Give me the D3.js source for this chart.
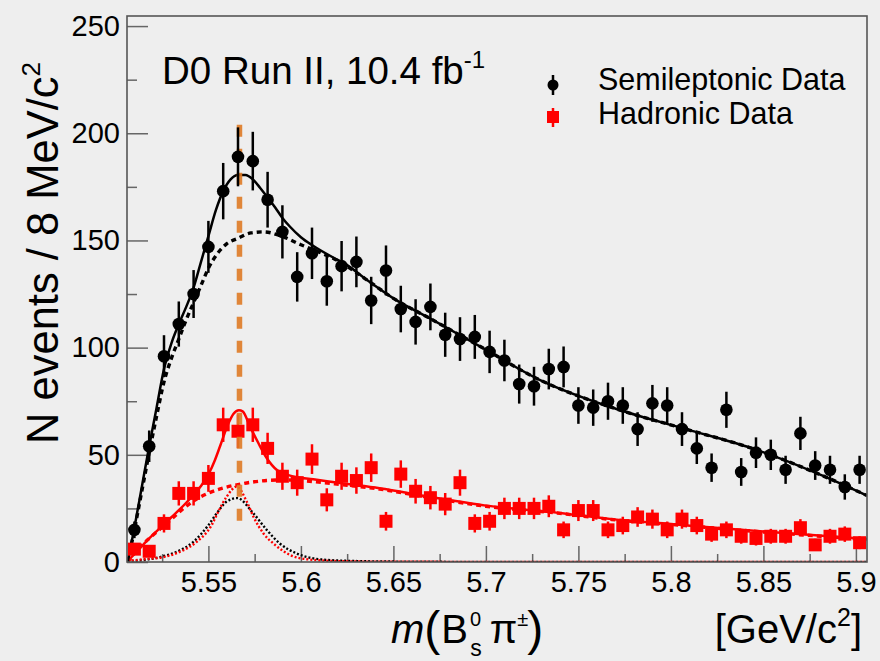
<!DOCTYPE html>
<html>
<head>
<meta charset="utf-8">
<script src="https://cdn.jsdelivr.net/npm/d3@7"></script>
<style>
  html, body { margin: 0; padding: 0; background: #eeeeee; }
  svg { display: block; font-family: "Liberation Sans", Arial, Helvetica, sans-serif; }
</style>
</head>
<body>
<svg id="chart" width="880" height="661"></svg>
<script>
// Histogram bin centres (8 MeV bins), GeV/c^2
const binCenters = [5.510, 5.518, 5.526, 5.534, 5.542, 5.550, 5.558, 5.566, 5.574, 5.582,
                    5.590, 5.598, 5.606, 5.614, 5.622, 5.630, 5.638, 5.646, 5.654, 5.662,
                    5.670, 5.678, 5.686, 5.694, 5.702, 5.710, 5.718, 5.726, 5.734, 5.742,
                    5.750, 5.758, 5.766, 5.774, 5.782, 5.790, 5.798, 5.806, 5.814, 5.822,
                    5.830, 5.838, 5.846, 5.854, 5.862, 5.870, 5.878, 5.886, 5.894, 5.902];

// Event counts per bin
const semileptonic = [15, 54, 96, 111, 125, 147, 173, 189, 187, 169,
                      154, 133, 144, 131, 138, 140, 122, 136, 118, 112,
                      119, 106, 104, 105, 98, 94, 83, 82, 90, 91,
                      73, 72, 75, 73, 62, 74, 73, 62, 53, 44,
                      71, 42, 51, 50, 43, 60, 45, 43, 35, 43];
const hadronic = [6, 5, 18, 32, 32, 39, 64, 61, 64, 53,
                  40, 37, 48, 29, 40, 38, 44, 19, 41, 33,
                  30, 27, 37, 18, 19, 25, 25, 25, 26, 15,
                  24, 24, 15, 17, 21, 20, 15, 20, 17, 13,
                  15, 12, 11, 12, 12, 16, 8, 12, 13, 9];

// Fit curves: semileptonic total (signal + background)
const semiTotalMass = [5.5064, 5.510, 5.514, 5.518, 5.522, 5.526, 5.530, 5.534, 5.538, 5.542,
                       5.546, 5.550, 5.554, 5.558, 5.562, 5.566, 5.570, 5.574, 5.578, 5.582,
                       5.586, 5.590, 5.594, 5.600, 5.607, 5.6175, 5.625, 5.635, 5.650, 5.670,
                       5.697, 5.729, 5.772, 5.808, 5.844, 5.880, 5.906];
const semiTotal = [0, 16, 35, 54, 72, 90, 102, 111, 119, 128,
                   140, 152, 164, 173, 178.5, 180.5, 180.5, 178.5, 174.5, 170,
                   165.5, 160.5, 156.5, 151.5, 147.3, 142, 138.5, 132, 123, 113.5,
                   100.5, 85, 71, 62, 53, 41, 31];

// Semileptonic background
const semiBkgMass = [5.5064, 5.510, 5.514, 5.518, 5.522, 5.526, 5.530, 5.534, 5.538, 5.542,
                     5.546, 5.550, 5.555, 5.560, 5.566, 5.573, 5.580, 5.588, 5.600, 5.610,
                     5.620, 5.635, 5.650, 5.670, 5.697, 5.729, 5.772, 5.808, 5.844, 5.880, 5.906];
const semiBkg = [0, 15, 33, 51, 68, 84, 95, 104, 113, 121,
                 129, 137, 144, 148.5, 151, 153.5, 154, 152.5, 148, 144.5,
                 140.5, 132, 123, 113.5, 100.5, 85, 71, 62, 53, 41, 31];

// Semileptonic signal component
const semiSigMass = [5.5064, 5.5114, 5.5238, 5.533, 5.542, 5.5501, 5.5545, 5.5599, 5.5656,
                     5.5743, 5.5815, 5.5885, 5.5977, 5.6067, 5.620, 5.650, 5.700, 5.906];
const semiSig = [0.3, 0.6, 2.3, 4.8, 9.5, 17.3, 22.7, 28.2, 29.8,
                 22.7, 15, 8.7, 4, 1.7, 0.7, 0.2, 0.05, 0];

// Hadronic total
const hadTotalMass = [5.5064, 5.5096, 5.518, 5.5294, 5.5384, 5.542, 5.546, 5.5501, 5.5535, 5.5563,
                      5.5609, 5.5636, 5.5665, 5.5685, 5.5725, 5.577, 5.5815, 5.5869, 5.5959, 5.6067,
                      5.6211, 5.6425, 5.670, 5.700, 5.740, 5.768, 5.800, 5.850, 5.906];
const hadTotal = [0.5, 3.3, 11, 20.4, 28, 31.5, 35.5, 41, 47.5, 54,
                  64.8, 69.2, 70.8, 70.3, 63.2, 55.5, 48.5, 43, 39.9, 38.6,
                  36.8, 34.4, 30.3, 26.3, 22.9, 20, 17.7, 14.2, 10.7];

// Hadronic background
const hadBkgMass = [5.5064, 5.512, 5.518, 5.524, 5.530, 5.5366, 5.543, 5.551, 5.558, 5.5653,
                    5.573, 5.5815, 5.592, 5.600, 5.607, 5.621, 5.6425, 5.670, 5.700, 5.740,
                    5.768, 5.800, 5.850, 5.906];
const hadBkg = [0, 6, 11, 15.5, 20, 25, 29, 32.5, 34.5, 36,
                37.2, 38, 38.3, 38, 37.5, 36.2, 34, 30, 26, 22.7,
                19.8, 17.5, 14, 10.5];

// Hadronic signal component
const hadSigMass = [5.5064, 5.515, 5.5258, 5.5348, 5.5438, 5.5518, 5.5545, 5.5599, 5.5653,
                    5.5707, 5.5743, 5.5797, 5.586, 5.5941, 5.6031, 5.620, 5.650, 5.906];
const hadSig = [0.5, 1.3, 2.3, 4.8, 9.5, 17.3, 22, 30.5, 35.2,
                28.2, 21.2, 13.4, 8, 3.3, 1.3, 0.4, 0.1, 0];

// Peak position marker (GeV/c^2) and its vertical extent (events)
const peakMass = 5.5668;
const peakRange = [18, 204];

// Axis ticks
const xMajorTicks = [5.55, 5.6, 5.65, 5.7, 5.75, 5.8, 5.85, 5.9];
const xTickLabels = ["5.55", "5.6", "5.65", "5.7", "5.75", "5.8", "5.85", "5.9"];
const xMinorTicks = [5.525, 5.575, 5.625, 5.675, 5.725, 5.775, 5.825, 5.875];
const yMajorTicks = [0, 50, 100, 150, 200, 250];
const yTickLabels = ["0", "50", "100", "150", "200", "250"];
const yMinorTicks = [25, 75, 125, 175, 225];

// ---------------------------------------------------------------------------
const svg = d3.select("#chart");
const frame = { left: 127, right: 867, top: 16, bottom: 562 };

svg.append("rect").attr("width", 880).attr("height", 661).attr("fill", "#eeeeee");

const x = d3.scaleLinear().domain([5.506, 5.906]).range([frame.left, frame.right]);
const y = d3.scaleLinear().domain([0, 254.7]).range([frame.bottom, frame.top]);

// Axes (ticks pointing into the frame)
const axisColor = "#666";
const gx = svg.append("g").attr("transform", `translate(0,${frame.bottom})`);
gx.call(d3.axisBottom(x).tickValues(xMajorTicks).tickSize(-16).tickPadding(9.5)
          .tickFormat((d, i) => xTickLabels[i]));
const gxm = svg.append("g").attr("transform", `translate(0,${frame.bottom})`);
gxm.call(d3.axisBottom(x).tickValues(xMinorTicks).tickSize(-8).tickFormat(""));

const gy = svg.append("g").attr("transform", `translate(${frame.left},0)`);
gy.call(d3.axisLeft(y).tickValues(yMajorTicks).tickSize(-21).tickPadding(7)
          .tickFormat((d, i) => yTickLabels[i]));
const gym = svg.append("g").attr("transform", `translate(${frame.left},0)`);
gym.call(d3.axisLeft(y).tickValues(yMinorTicks).tickSize(-10).tickFormat(""));

[gx, gxm, gy, gym].forEach(g => {
  g.select(".domain").remove();
  g.selectAll(".tick line").attr("stroke", axisColor).attr("stroke-width", 1.5);
  g.selectAll(".tick text").attr("fill", "#000").attr("font-size", 29)
    .attr("font-family", "'Liberation Sans', Arial, sans-serif");
});

// Curves
const clipId = "plotclip";
svg.append("clipPath").attr("id", clipId).append("rect")
  .attr("x", frame.left).attr("y", frame.top)
  .attr("width", frame.right - frame.left).attr("height", frame.bottom - frame.top);

const plot = svg.append("g").attr("clip-path", `url(#${clipId})`);

const line = d3.line().x(d => x(d[0])).y(d => y(d[1])).curve(d3.curveMonotoneX);
const zip = (ms, vs) => ms.map((m, i) => [m, vs[i]]);

function drawCurve(ms, vs, color, width, dash) {
  plot.append("path").datum(zip(ms, vs))
    .attr("d", line).attr("fill", "none")
    .attr("stroke", color).attr("stroke-width", width)
    .attr("stroke-dasharray", dash || null);
}

// Signal components (fine dots)
drawCurve(semiSigMass, semiSig, "#000", 2.4, "2,2");
drawCurve(hadSigMass, hadSig, "#ff0000", 2.4, "2,2");
// Backgrounds (short dashes)
drawCurve(hadBkgMass, hadBkg, "#ff0000", 3.4, "5,4");
drawCurve(semiBkgMass, semiBkg, "#000", 3.4, "5,4");
// Totals
drawCurve(hadTotalMass, hadTotal, "#ff0000", 2.5);
drawCurve(semiTotalMass, semiTotal, "#000", 2.5);

// Hadronic data: red squares with sqrt(N) error bars
const sq = 13;
const hadG = plot.append("g");
binCenters.forEach((m, i) => {
  const n = hadronic[i], e = Math.sqrt(n);
  hadG.append("line").attr("x1", x(m)).attr("x2", x(m))
    .attr("y1", y(n - e)).attr("y2", y(n + e))
    .attr("stroke", "#ff0000").attr("stroke-width", 2.5);
  hadG.append("rect").attr("x", x(m) - sq / 2).attr("y", y(n) - sq / 2)
    .attr("width", sq).attr("height", sq).attr("fill", "#ff0000");
});

// Peak position marker
plot.append("line")
  .attr("x1", x(peakMass)).attr("x2", x(peakMass))
  .attr("y1", y(peakRange[1])).attr("y2", y(peakRange[0]))
  .attr("stroke", "#df7b26").attr("stroke-width", 5.5)
  .attr("stroke-dasharray", "12,12").attr("opacity", 0.9);

// Semileptonic data: black circles with sqrt(N) error bars
const semiG = plot.append("g");
binCenters.forEach((m, i) => {
  const n = semileptonic[i], e = Math.sqrt(n);
  semiG.append("line").attr("x1", x(m)).attr("x2", x(m))
    .attr("y1", y(n - e)).attr("y2", y(n + e))
    .attr("stroke", "#000").attr("stroke-width", 2.5);
  semiG.append("circle").attr("cx", x(m)).attr("cy", y(n)).attr("r", 6.3).attr("fill", "#000");
});

// Frame
svg.append("rect")
  .attr("x", frame.left).attr("y", frame.top)
  .attr("width", frame.right - frame.left).attr("height", frame.bottom - frame.top)
  .attr("fill", "none").attr("stroke", "#555").attr("stroke-width", 1.6);

// Header
const header = svg.append("text").attr("x", 162).attr("y", 84)
  .attr("font-size", 38.5).attr("fill", "#000");
header.append("tspan").text("D0 Run II, 10.4 fb");
header.append("tspan").attr("font-size", 24).attr("dy", -16).text("-1");

// Legend
const leg = svg.append("g");
leg.append("line").attr("x1", 553).attr("x2", 553).attr("y1", 75).attr("y2", 95)
  .attr("stroke", "#000").attr("stroke-width", 2.5);
leg.append("circle").attr("cx", 553).attr("cy", 85).attr("r", 5.5).attr("fill", "#000");
leg.append("line").attr("x1", 553).attr("x2", 553).attr("y1", 108).attr("y2", 127)
  .attr("stroke", "#ff0000").attr("stroke-width", 2.5);
leg.append("rect").attr("x", 547).attr("y", 111).attr("width", 12).attr("height", 12)
  .attr("fill", "#ff0000");
leg.append("text").attr("x", 598).attr("y", 90).attr("font-size", 30.5).text("Semileptonic Data");
leg.append("text").attr("x", 598).attr("y", 124).attr("font-size", 30.5).text("Hadronic Data");

// Y axis title
const yt = svg.append("text")
  .attr("transform", "translate(58,62) rotate(-90)")
  .attr("text-anchor", "end").attr("font-size", 43.5).attr("fill", "#000");
yt.append("tspan").text("N events / 8 MeV/c");
yt.append("tspan").attr("font-size", 26).attr("dy", -18).text("2");

// X axis title
const xt = svg.append("text").attr("x", 391).attr("y", 643).attr("font-size", 40).attr("fill", "#000");
xt.append("tspan").attr("font-style", "italic").text("m");
xt.append("tspan").attr("font-size", 48).attr("dy", 2).text("(");
xt.append("tspan").attr("dy", -2).attr("dx", 1).text("B");
xt.append("tspan").attr("font-size", 20).attr("dy", -17).attr("dx", 2).text("0");
xt.append("tspan").attr("font-size", 23).attr("dy", 30).attr("dx", -11).text("s");
xt.append("tspan").attr("dy", -13).attr("dx", 8).text("π");
xt.append("tspan").attr("font-size", 20).attr("dy", -17).attr("dx", 0).text("±");
xt.append("tspan").attr("font-size", 48).attr("dy", 19).attr("dx", -1).text(")");

const ut = svg.append("text").attr("x", 862).attr("y", 643).attr("text-anchor", "end")
  .attr("font-size", 40).attr("fill", "#000");
ut.append("tspan").text("[GeV/c");
ut.append("tspan").attr("font-size", 25).attr("dy", -17).text("2");
ut.append("tspan").attr("dy", 17).text("]");
</script>
</body>
</html>
